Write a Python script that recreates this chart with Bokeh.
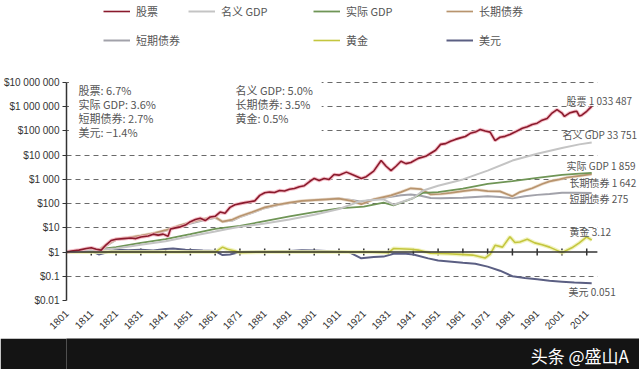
import math
from bokeh.plotting import figure
from bokeh.models import (Legend, LegendItem, Label, Span, BoxAnnotation,
                          FixedTicker, Range1d)
from bokeh.layouts import column
from bokeh.embed import file_html
from bokeh.resources import INLINE

FONT = "Noto Sans CJK SC"
NUMFONT = "Liberation Sans"

# ---------------- data (real total return indexes, $1 in 1801) ----------------
stock_years = [1801, 1803, 1806, 1809, 1811, 1813, 1815, 1817, 1819, 1821, 1824, 1827, 1829, 1831,
               1834, 1836, 1838, 1840, 1842, 1843, 1845, 1847, 1849, 1851, 1853, 1855, 1857, 1859,
               1861, 1863, 1865, 1867, 1869, 1871, 1873, 1875, 1877, 1879, 1881, 1883, 1885, 1887,
               1889, 1891, 1893, 1895, 1897, 1899, 1901, 1903, 1905, 1907, 1909, 1911, 1914, 1917,
               1920, 1922, 1925, 1928, 1930, 1932, 1934, 1936, 1938, 1940, 1943, 1946, 1948, 1950,
               1952, 1954, 1956, 1958, 1960, 1962, 1964, 1966, 1968, 1970, 1972, 1974, 1976, 1978,
               1980, 1982, 1985, 1987, 1989, 1991, 1993, 1995, 1997, 1999, 2001, 2002, 2004, 2006,
               2007, 2008, 2009, 2011, 2013]
stock_vals = [1.0, 1.1, 1.2, 1.4, 1.5, 1.3, 1.2, 2.0, 3.0, 3.4, 3.6, 3.8, 3.6, 4.2,
              4.6, 5.5, 5.0, 5.5, 4.5, 9.0, 10, 11, 13, 18, 22, 25, 20, 28,
              30, 45, 40, 70, 90, 100, 110, 120, 130, 220, 280, 300, 290, 350,
              330, 390, 420, 500, 550, 800, 1100, 900, 1100, 1000, 1600, 1500, 2000, 1500,
              1100, 1300, 2200, 6000, 3500, 2300, 3500, 5600, 4500, 5000, 7400, 9000, 12000, 16000,
              28000, 30000, 38000, 45000, 52000, 59000, 80000, 90000, 115000, 100000, 90000, 40000, 55000, 60000,
              72000, 90000, 130000, 150000, 185000, 210000, 280000, 330000, 550000, 760000, 550000, 400000, 550000, 630000,
              650000, 420000, 450000, 650000, 1033487]

ngdp_years = [1801, 1811, 1821, 1831, 1841, 1851, 1861, 1866, 1871, 1881, 1891, 1901, 1911, 1920,
              1929, 1933, 1941, 1945, 1951, 1961, 1971, 1981, 1991, 2001, 2008, 2013]
ngdp_vals = [1.0, 1.2, 1.4, 2.0, 2.8, 4.5, 7, 9, 11, 15, 22, 35, 60, 130,
             150, 90, 170, 350, 550, 1000, 2300, 6000, 11500, 20000, 28000, 33751]

rgdp_years = [1801, 1811, 1821, 1831, 1841, 1851, 1861, 1871, 1881, 1891, 1901, 1911, 1921, 1929,
              1933, 1941, 1945, 1951, 1961, 1971, 1981, 1991, 2001, 2008, 2013]
rgdp_vals = [1.0, 1.2, 1.6, 2.4, 3.4, 5.5, 9, 12, 19, 30, 45, 64, 75, 110,
             85, 170, 280, 300, 420, 650, 850, 1150, 1550, 1750, 1859]

bond_years = [1801, 1806, 1811, 1814, 1817, 1821, 1826, 1831, 1836, 1841, 1846, 1851, 1856, 1861,
              1864, 1868, 1871, 1876, 1881, 1886, 1891, 1896, 1901, 1906, 1911, 1916, 1920, 1925,
              1932, 1936, 1940, 1944, 1948, 1952, 1956, 1961, 1966, 1971, 1976, 1981, 1984, 1989,
              1993, 1996, 2000, 2003, 2008, 2013]
bond_vals = [1.0, 1.1, 1.3, 1.2, 2.0, 3.4, 4.0, 4.8, 6.0, 8.0, 12, 17, 23, 28,
             18, 22, 30, 45, 70, 90, 110, 130, 140, 150, 160, 130, 95, 150,
             220, 300, 430, 400, 240, 250, 280, 330, 380, 330, 320, 200, 300, 430,
             650, 830, 1000, 1200, 1400, 1642]

bill_years = [1801, 1806, 1811, 1814, 1817, 1821, 1826, 1831, 1836, 1841, 1846, 1851, 1856, 1861,
              1864, 1868, 1871, 1876, 1881, 1886, 1891, 1896, 1901, 1906, 1911, 1916, 1920, 1925,
              1932, 1936, 1940, 1944, 1948, 1952, 1956, 1961, 1966, 1971, 1976, 1981, 1986, 1991,
              1996, 2001, 2006, 2013]
bill_vals = [1.0, 1.1, 1.3, 1.2, 1.8, 3.2, 3.8, 4.6, 5.5, 7.5, 11, 15, 20, 26,
             18, 20, 28, 42, 65, 85, 105, 125, 140, 150, 165, 140, 120, 150,
             190, 220, 240, 210, 170, 165, 170, 175, 190, 200, 190, 165, 200, 230,
             250, 280, 280, 275]

gold_years = [1801, 1821, 1841, 1861, 1864, 1866, 1869, 1871, 1881, 1901, 1921, 1931, 1933, 1940,
              1943, 1948, 1955, 1960, 1965, 1970, 1972, 1974, 1977, 1980, 1982, 1984, 1987, 1990,
              1993, 1996, 2001, 2005, 2008, 2011, 2013]
gold_vals = [1.0, 1.0, 1.0, 1.0, 1.6, 1.3, 1.1, 0.95, 1.0, 1.0, 1.0, 0.95, 1.4, 1.3,
             1.2, 0.9, 0.85, 0.8, 0.75, 0.57, 0.8, 1.9, 1.6, 4.3, 2.5, 2.6, 3.4, 2.4,
             2.0, 1.6, 0.95, 1.5, 2.4, 4.2, 3.12]

usd_years = [1801, 1806, 1811, 1814, 1816, 1821, 1826, 1831, 1836, 1841, 1844, 1849, 1856, 1861,
             1864, 1867, 1871, 1881, 1891, 1896, 1901, 1911, 1915, 1920, 1925, 1929, 1933, 1938,
             1941, 1947, 1951, 1961, 1966, 1971, 1976, 1981, 1986, 1991, 1996, 2001, 2006, 2013]
usd_vals = [1.0, 1.05, 1.1, 0.8, 0.9, 1.25, 1.2, 1.25, 1.15, 1.35, 1.4, 1.25, 1.15, 1.1,
            0.75, 0.8, 1.0, 1.05, 1.1, 1.2, 1.15, 1.05, 1.0, 0.55, 0.62, 0.65, 0.85, 0.85,
            0.8, 0.55, 0.45, 0.36, 0.33, 0.25, 0.17, 0.1, 0.085, 0.075, 0.065, 0.06, 0.055, 0.051]

names = ["股票", "名义 GDP", "实际 GDP", "长期债券", "短期债券", "黄金", "美元"]
cagr_labels = ["股票: 6.7%", "实际 GDP: 3.6%", "短期债券: 2.7%", "美元: −1.4%"]
cagr_labels_r = ["名义 GDP: 5.0%", "长期债券: 3.5%", "黄金: 0.5%"]
end_labels = ["股票 1 033 487", "名义 GDP 33 751", "实际 GDP 1 859", "长期债券 1 642",
              "短期债券 275", "黄金 3.12", "美元 0.051"]

y_ticks = [1e-2, 1e-1, 1, 10, 100, 1e3, 1e4, 1e5, 1e6, 1e7]
y_tick_labels = ["$0.01", "$0.1", "$1", "$10", "$100", "$1 000", "$10 000", "$100 000",
                 "$1 000 000", "$10 000 000"]
x_ticks = list(range(1801, 2012, 10))

# ---------------- layout constants ----------------
DECADE_PX = 24.2
TOP_PAD_PX = 82            # space above the $10 000 000 line (legend + notes live here)
X_DATA_END = 2015.3        # where grid / axis line stop
X_FRAME_END = 2032.3       # frame extends further right for end labels
y_top = 1e7 * 10 ** (TOP_PAD_PX / DECADE_PX)

p = figure(width=639, height=338, output_backend="svg", toolbar_location=None,
           y_axis_type="log", x_range=Range1d(1801, X_FRAME_END), y_range=Range1d(0.01, y_top),
           min_border_left=63, min_border_right=0, min_border_top=0, min_border_bottom=38)
p.outline_line_color = None
p.background_fill_color = "white"
p.border_fill_color = "white"
p.xgrid.visible = False
p.ygrid.ticker = FixedTicker(ticks=[t for t in y_ticks if t != 1])
p.ygrid.grid_line_color = "#6a6a6a"
p.ygrid.grid_line_dash = "5 4"
p.ygrid.grid_line_width = 1

ya = p.yaxis[0]
ya.ticker = FixedTicker(ticks=y_ticks, minor_ticks=[])
ya.bounds = (0.01, 1e7)
ya.major_label_overrides = {t: l for t, l in zip(y_ticks, y_tick_labels)}
ya.axis_line_color = "#333333"
ya.axis_line_width = 1.5
ya.major_tick_line_color = "#333333"
ya.major_tick_out = 4
ya.major_tick_in = 0
ya.minor_tick_line_color = None
ya.major_label_standoff = 3
ya.major_label_text_font = NUMFONT
ya.major_label_text_font_size = "10px"
ya.major_label_text_color = "#333333"

xa = p.xaxis[0]
xa.ticker = FixedTicker(ticks=x_ticks, minor_ticks=[])
xa.axis_line_color = None
xa.major_tick_line_color = None
xa.minor_tick_line_color = None
xa.major_label_orientation = math.pi / 4
xa.major_label_standoff = 5
xa.major_label_text_font = NUMFONT
xa.major_label_text_font_size = "10px"
xa.major_label_text_color = "#333333"

# x axis line at $1 with ticks
p.add_layout(Span(location=1, dimension="width", line_color="#333333", line_width=1.5))
p.scatter(x=x_ticks[1:], y=[1] * (len(x_ticks) - 1), marker="dash", angle=math.pi / 2,
          size=7, line_color="#333333", line_width=1.5)

# ---------------- series ----------------
r_usd = p.line(usd_years, usd_vals, line_color="#5b5f83", line_width=2)
p.line(gold_years, gold_vals, line_color="#eef0b0", line_width=4, line_alpha=0.8)
r_gold = p.line(gold_years, gold_vals, line_color="#c4c63e", line_width=1.6)
r_bill = p.line(bill_years, bill_vals, line_color="#a2a2aa", line_width=2)
p.line(bond_years, bond_vals, line_color="#ead8c6", line_width=3.2, line_alpha=0.8)
r_bond = p.line(bond_years, bond_vals, line_color="#b8946e", line_width=1.7)
r_rgdp = p.line(rgdp_years, rgdp_vals, line_color="#6f9556", line_width=1.8)
r_ngdp = p.line(ngdp_years, ngdp_vals, line_color="#c4c4c4", line_width=2)
p.line(stock_years, stock_vals, line_color="#f3b4c0", line_width=3.6, line_alpha=0.85)
r_stock = p.line(stock_years, stock_vals, line_color="#8a1a2c", line_width=1.6)

# white boxes hiding grid behind upper-left notes and right of the data area
p.add_layout(BoxAnnotation(left=1802, right=1904, bottom=3e4, fill_color="white",
                           fill_alpha=1, line_alpha=0))
p.add_layout(BoxAnnotation(left=X_DATA_END, fill_color="white", fill_alpha=1, line_alpha=0))

# legend (one legend per slot so that the empty slot matches)
leg_renderers = [r_stock, r_ngdp, r_rgdp, r_bond, r_bill, r_gold, r_usd]
leg_pos = [(37, 281), (122, 281), (247, 281), (380, 281), (37, 252), (247, 252), (380, 252)]
for name, r, pos in zip(names, leg_renderers, leg_pos):
    lg = Legend(items=[LegendItem(label=name, renderers=[r])], location=pos,
                background_fill_alpha=0, border_line_alpha=0, padding=0, margin=0,
                glyph_width=27, glyph_height=12, label_height=12, label_standoff=6,
                label_text_font=FONT, label_text_font_size="11px",
                label_text_color="#555555")
    p.add_layout(lg, "center")

# CAGR notes
for i, t in enumerate(cagr_labels):
    p.add_layout(Label(x=12, y=211 - 14 * i, x_units="screen", y_units="screen", text=t,
                       text_font=FONT, text_font_size="11px", text_color="#555555",
                       text_baseline="middle"))
for i, t in enumerate(cagr_labels_r):
    p.add_layout(Label(x=169, y=211 - 14 * i, x_units="screen", y_units="screen", text=t,
                       text_font=FONT, text_font_size="11px", text_color="#555555",
                       text_baseline="middle"))

# end labels
end_pos = [(500, 200), (496, 166), (500, 135), (503, 118), (503, 102), (503, 69), (502, 9)]
for t, (x, y) in zip(end_labels, end_pos):
    p.add_layout(Label(x=x, y=y, x_units="screen", y_units="screen", text=t,
                       text_font=FONT, text_font_size="10px", text_color="#555555",
                       text_baseline="middle"))

# ---------------- watermark band ----------------
band = figure(width=639, height=31, output_backend="svg", toolbar_location=None,
              x_range=Range1d(0, 1), y_range=Range1d(0, 1), min_border=0,
              x_axis_location=None, y_axis_location=None)
band.background_fill_color = "#141414"
band.border_fill_color = "#141414"
band.outline_line_color = None
band.grid.visible = False
band.add_layout(Label(x=0.81, y=0.45, text="头条 @盛山A",
                      text_font=FONT, text_font_size="17px", text_color="white",
                      text_baseline="middle"))

layout = column(p, band, spacing=0)
open("out.html", "w").write(file_html(layout, INLINE))
